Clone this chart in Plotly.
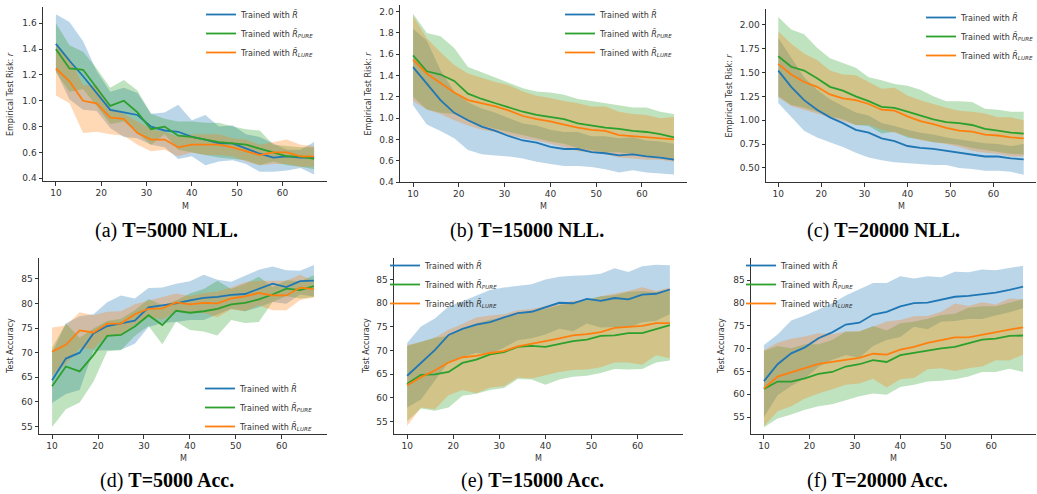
import plotly.graph_objects as go

# ---------------- data ----------------
M = [10, 13, 16, 19, 22, 25, 28, 31, 34, 37, 40, 43, 46, 49, 52, 55, 58, 61, 64, 67]

# (a) T=5000 NLL
a_R_mean = [1.44, 1.31, 1.19, 1.06, 0.93, 0.91, 0.89, 0.80, 0.77, 0.76, 0.72, 0.70, 0.67, 0.67, 0.63, 0.59, 0.56, 0.57, 0.56, 0.56]
a_R_hi = [1.67, 1.61, 1.46, 1.23, 1.07, 1.10, 1.06, 0.90, 0.91, 0.97, 0.85, 0.89, 0.80, 0.81, 0.74, 0.72, 0.67, 0.62, 0.62, 0.68]
a_R_lo = [1.23, 1.01, 0.93, 0.92, 0.79, 0.72, 0.71, 0.66, 0.64, 0.55, 0.57, 0.50, 0.53, 0.54, 0.51, 0.45, 0.45, 0.46, 0.48, 0.43]
a_PURE_mean = [1.40, 1.25, 1.24, 1.10, 0.96, 1.00, 0.91, 0.78, 0.80, 0.73, 0.72, 0.70, 0.68, 0.67, 0.66, 0.63, 0.60, 0.57, 0.57, 0.55]
a_PURE_hi = [1.60, 1.43, 1.38, 1.25, 1.10, 1.16, 1.08, 0.90, 0.86, 0.84, 0.84, 0.83, 0.83, 0.80, 0.78, 0.77, 0.66, 0.65, 0.64, 0.64]
a_PURE_lo = [1.22, 1.07, 1.09, 0.96, 0.82, 0.84, 0.75, 0.66, 0.74, 0.62, 0.60, 0.58, 0.56, 0.55, 0.54, 0.50, 0.53, 0.50, 0.49, 0.47]
a_LURE_mean = [1.25, 1.15, 1.00, 0.98, 0.87, 0.86, 0.75, 0.70, 0.70, 0.64, 0.66, 0.66, 0.66, 0.64, 0.61, 0.58, 0.60, 0.60, 0.57, 0.57]
a_LURE_hi = [1.44, 1.33, 1.12, 1.12, 0.94, 0.90, 0.84, 0.78, 0.76, 0.72, 0.74, 0.74, 0.74, 0.71, 0.70, 0.66, 0.68, 0.70, 0.66, 0.65]
a_LURE_lo = [1.04, 0.98, 0.75, 0.76, 0.74, 0.73, 0.66, 0.61, 0.62, 0.57, 0.60, 0.58, 0.58, 0.57, 0.53, 0.50, 0.51, 0.51, 0.49, 0.49]

# (b) T=15000 NLL
b_R_mean = [1.48, 1.33, 1.17, 1.05, 0.98, 0.92, 0.88, 0.83, 0.79, 0.77, 0.73, 0.71, 0.71, 0.68, 0.67, 0.65, 0.66, 0.64, 0.63, 0.61]
b_R_hi = [1.84, 1.73, 1.45, 1.25, 1.15, 1.09, 1.05, 1.00, 0.95, 0.93, 0.89, 0.87, 0.87, 0.83, 0.83, 0.81, 0.82, 0.79, 0.78, 0.76]
b_R_lo = [1.12, 0.94, 0.88, 0.81, 0.70, 0.66, 0.65, 0.64, 0.62, 0.59, 0.57, 0.55, 0.55, 0.54, 0.52, 0.49, 0.51, 0.49, 0.48, 0.47]
b_PURE_mean = [1.59, 1.44, 1.41, 1.35, 1.23, 1.18, 1.14, 1.10, 1.06, 1.03, 1.01, 0.99, 0.95, 0.93, 0.91, 0.90, 0.88, 0.87, 0.85, 0.82]
b_PURE_hi = [1.98, 1.80, 1.77, 1.66, 1.48, 1.43, 1.38, 1.33, 1.28, 1.25, 1.24, 1.22, 1.18, 1.16, 1.14, 1.12, 1.10, 1.10, 1.06, 1.04]
b_PURE_lo = [1.20, 1.08, 1.05, 1.04, 0.98, 0.93, 0.90, 0.87, 0.84, 0.81, 0.78, 0.76, 0.72, 0.70, 0.68, 0.68, 0.66, 0.64, 0.64, 0.60]
b_LURE_mean = [1.55, 1.42, 1.33, 1.24, 1.17, 1.14, 1.11, 1.07, 1.02, 0.99, 0.97, 0.94, 0.91, 0.89, 0.88, 0.84, 0.83, 0.82, 0.81, 0.80]
b_LURE_hi = [1.96, 1.75, 1.62, 1.50, 1.42, 1.38, 1.34, 1.31, 1.25, 1.21, 1.19, 1.16, 1.14, 1.11, 1.11, 1.06, 1.04, 1.03, 1.00, 1.01]
b_LURE_lo = [1.16, 1.08, 1.04, 0.98, 0.93, 0.89, 0.87, 0.84, 0.81, 0.79, 0.76, 0.73, 0.69, 0.68, 0.66, 0.63, 0.62, 0.61, 0.61, 0.59]

# (c) T=20000 NLL
c_R_mean = [1.52, 1.35, 1.21, 1.11, 1.03, 0.97, 0.90, 0.87, 0.81, 0.78, 0.73, 0.71, 0.70, 0.68, 0.66, 0.64, 0.62, 0.62, 0.60, 0.59]
c_R_hi = [1.86, 1.65, 1.45, 1.32, 1.22, 1.15, 1.08, 1.05, 0.97, 0.94, 0.90, 0.87, 0.85, 0.82, 0.80, 0.78, 0.76, 0.75, 0.73, 0.75]
c_R_lo = [1.18, 1.03, 0.89, 0.82, 0.77, 0.72, 0.66, 0.61, 0.58, 0.56, 0.55, 0.54, 0.53, 0.53, 0.50, 0.49, 0.47, 0.47, 0.46, 0.43]
c_PURE_mean = [1.67, 1.56, 1.52, 1.44, 1.35, 1.31, 1.25, 1.20, 1.14, 1.13, 1.09, 1.05, 1.01, 0.98, 0.97, 0.95, 0.91, 0.89, 0.87, 0.86]
c_PURE_hi = [2.08, 1.95, 1.90, 1.76, 1.65, 1.60, 1.55, 1.45, 1.42, 1.38, 1.36, 1.32, 1.25, 1.20, 1.20, 1.19, 1.12, 1.11, 1.09, 1.09]
c_PURE_lo = [1.25, 1.16, 1.13, 1.09, 1.04, 1.01, 0.95, 0.94, 0.86, 0.88, 0.82, 0.80, 0.77, 0.76, 0.74, 0.71, 0.69, 0.67, 0.65, 0.64]
c_LURE_mean = [1.59, 1.48, 1.40, 1.35, 1.27, 1.23, 1.21, 1.17, 1.11, 1.10, 1.04, 0.99, 0.96, 0.92, 0.89, 0.88, 0.85, 0.84, 0.82, 0.81]
c_LURE_hi = [1.93, 1.80, 1.70, 1.63, 1.52, 1.48, 1.47, 1.40, 1.33, 1.34, 1.26, 1.21, 1.17, 1.13, 1.10, 1.09, 1.07, 1.03, 1.03, 1.00]
c_LURE_lo = [1.24, 1.15, 1.11, 1.07, 1.03, 0.99, 0.95, 0.95, 0.90, 0.87, 0.83, 0.79, 0.77, 0.75, 0.72, 0.68, 0.66, 0.65, 0.62, 0.62]

# (d) T=5000 Acc
d_R_mean = [64.4, 68.8, 70.0, 73.9, 75.4, 76.0, 76.5, 79.2, 79.6, 80.0, 80.6, 81.1, 81.3, 81.7, 81.9, 82.9, 84.0, 83.3, 84.5, 84.6]
d_R_hi = [70.0, 75.9, 77.4, 77.8, 80.2, 81.6, 81.0, 83.1, 83.2, 84.0, 84.5, 85.8, 84.8, 84.4, 85.6, 86.8, 87.5, 86.7, 86.6, 87.8]
d_R_lo = [59.8, 61.6, 62.4, 70.4, 70.5, 70.6, 71.8, 75.2, 76.0, 76.2, 76.6, 76.6, 77.7, 78.9, 78.4, 79.2, 80.3, 79.9, 81.8, 81.4]
d_PURE_mean = [63.2, 67.2, 66.2, 69.5, 73.4, 73.6, 75.3, 77.6, 75.6, 78.5, 78.1, 78.4, 78.9, 79.8, 80.1, 80.8, 81.8, 83.0, 82.7, 83.5]
d_PURE_hi = [71.0, 75.9, 73.0, 74.9, 76.4, 76.9, 78.6, 80.9, 79.6, 80.6, 82.0, 82.9, 84.6, 82.9, 84.0, 85.4, 83.3, 84.7, 84.5, 85.7]
d_PURE_lo = [54.9, 58.5, 59.9, 64.1, 70.3, 70.5, 73.4, 75.4, 71.7, 76.3, 74.6, 74.3, 73.5, 76.6, 76.0, 76.2, 80.3, 81.5, 81.0, 81.3]
d_LURE_mean = [70.2, 71.6, 74.5, 74.1, 75.9, 75.9, 77.8, 78.9, 79.0, 80.2, 79.8, 80.1, 80.0, 81.0, 81.4, 82.1, 81.6, 81.6, 83.2, 82.9]
d_LURE_hi = [75.1, 75.5, 78.2, 77.6, 78.3, 78.4, 79.8, 80.5, 81.3, 82.0, 81.5, 82.1, 82.4, 83.2, 84.3, 84.6, 84.6, 84.6, 85.8, 84.5]
d_LURE_lo = [65.3, 67.7, 70.9, 70.7, 73.6, 73.5, 75.7, 77.3, 76.7, 78.3, 78.0, 78.1, 77.2, 78.8, 78.4, 79.6, 78.6, 78.6, 80.7, 81.2]

# (e) T=15000 Acc
e_R_mean = [64.7, 67.3, 70.1, 73.3, 74.6, 75.5, 76.0, 77.0, 77.9, 78.2, 79.2, 80.1, 80.0, 80.9, 80.5, 81.1, 80.8, 81.8, 82.0, 82.9]
e_R_hi = [71.6, 75.1, 76.8, 79.3, 80.4, 81.6, 82.8, 83.3, 83.7, 84.0, 85.0, 85.6, 85.8, 85.9, 86.2, 87.4, 86.6, 87.8, 88.1, 88.0]
e_R_lo = [58.0, 59.7, 63.7, 67.6, 68.7, 69.5, 69.3, 70.6, 72.2, 72.6, 73.4, 74.6, 74.1, 75.7, 74.9, 75.0, 74.9, 76.0, 76.3, 77.7]
e_PURE_mean = [63.0, 64.9, 65.0, 65.5, 67.4, 68.1, 69.2, 69.7, 70.8, 71.0, 70.8, 71.4, 72.0, 72.3, 73.1, 73.2, 73.7, 73.7, 74.5, 75.4]
e_PURE_hi = [71.0, 71.9, 72.7, 73.1, 74.4, 75.8, 76.5, 76.9, 77.6, 78.4, 78.8, 79.6, 80.2, 80.8, 81.5, 81.7, 82.4, 82.6, 82.3, 83.0]
e_PURE_lo = [55.1, 57.8, 57.3, 58.0, 60.5, 60.9, 61.7, 62.1, 64.0, 63.9, 62.8, 63.9, 64.5, 64.7, 65.3, 66.1, 66.0, 66.1, 67.5, 67.9]
e_LURE_mean = [62.7, 64.4, 65.8, 67.5, 68.6, 68.9, 69.5, 69.9, 70.9, 71.4, 72.0, 72.6, 73.2, 73.5, 73.9, 74.8, 75.0, 75.2, 75.8, 75.8]
e_LURE_hi = [71.2, 71.8, 72.7, 74.4, 75.6, 77.0, 77.4, 77.7, 78.5, 78.8, 79.4, 79.8, 80.5, 80.5, 81.5, 82.1, 82.6, 83.4, 82.6, 83.3]
e_LURE_lo = [54.1, 58.0, 57.6, 60.6, 61.7, 61.0, 62.2, 62.5, 64.3, 64.1, 64.8, 65.5, 65.9, 66.0, 66.5, 67.5, 67.5, 67.0, 69.0, 68.4]

# (f) T=20000 Acc
f_R_mean = [62.9, 66.6, 69.0, 70.3, 72.3, 73.6, 75.3, 75.7, 77.5, 78.1, 79.3, 80.0, 80.1, 80.7, 81.4, 81.6, 82.0, 82.3, 82.9, 83.6]
f_R_hi = [70.8, 73.1, 76.2, 77.3, 78.6, 80.0, 81.7, 83.1, 84.4, 84.4, 85.9, 85.4, 85.9, 85.7, 86.9, 86.8, 87.4, 87.2, 87.7, 88.2]
f_R_lo = [55.0, 59.8, 61.8, 63.5, 66.0, 67.6, 68.6, 68.0, 70.6, 71.9, 72.6, 74.8, 74.3, 75.9, 76.1, 76.5, 76.5, 77.3, 78.0, 78.9]
f_PURE_mean = [61.2, 62.8, 62.8, 63.5, 64.5, 64.9, 66.1, 66.6, 67.5, 67.1, 68.6, 69.1, 69.7, 70.1, 70.4, 71.2, 72.0, 72.2, 72.8, 72.9]
f_PURE_hi = [69.5, 70.6, 70.1, 71.0, 71.0, 71.9, 73.7, 73.7, 75.0, 74.0, 75.6, 75.9, 76.6, 77.4, 77.7, 79.0, 79.3, 79.3, 80.1, 80.9]
f_PURE_lo = [52.8, 54.7, 55.6, 56.6, 57.4, 57.8, 58.7, 59.6, 60.2, 59.9, 61.6, 62.1, 62.8, 63.0, 63.3, 63.9, 64.9, 64.9, 65.6, 64.9]
f_LURE_mean = [61.3, 63.9, 64.8, 65.8, 66.7, 67.1, 67.6, 68.0, 68.9, 68.7, 69.8, 70.4, 71.3, 71.9, 72.5, 72.5, 73.1, 73.6, 74.2, 74.7]
f_LURE_hi = [69.7, 71.3, 72.2, 72.7, 73.4, 73.2, 73.8, 73.9, 74.8, 76.0, 76.3, 77.1, 77.2, 78.1, 79.9, 79.4, 80.2, 79.7, 81.0, 80.8]
f_LURE_lo = [53.0, 56.3, 57.4, 59.1, 60.2, 61.1, 62.1, 62.4, 63.4, 61.5, 63.3, 63.6, 65.5, 65.7, 65.1, 65.7, 66.1, 67.5, 67.4, 68.7]

legend_labels = ["Trained with <i>R\u0303</i>",
                 "Trained with <i>R\u0303</i><sub><i>PURE</i></sub>",
                 "Trained with <i>R\u0303</i><sub><i>LURE</i></sub>"]
captions = ["(a) <b>T=5000 NLL.</b>", "(b) <b>T=15000 NLL.</b>", "(c) <b>T=20000 NLL.</b>",
            "(d) <b>T=5000 Acc.</b>", "(e) <b>T=15000 Acc.</b>", "(f) <b>T=20000 Acc.</b>"]
y_titles = ["Empirical Test Risk: <i>r</i>"] * 3 + ["Test Accuracy"] * 3
x_title = "M"
x_ticks = [10, 20, 30, 40, 50, 60]

panel_series = [
    [(a_R_mean, a_R_lo, a_R_hi), (a_PURE_mean, a_PURE_lo, a_PURE_hi), (a_LURE_mean, a_LURE_lo, a_LURE_hi)],
    [(b_R_mean, b_R_lo, b_R_hi), (b_PURE_mean, b_PURE_lo, b_PURE_hi), (b_LURE_mean, b_LURE_lo, b_LURE_hi)],
    [(c_R_mean, c_R_lo, c_R_hi), (c_PURE_mean, c_PURE_lo, c_PURE_hi), (c_LURE_mean, c_LURE_lo, c_LURE_hi)],
    [(d_R_mean, d_R_lo, d_R_hi), (d_PURE_mean, d_PURE_lo, d_PURE_hi), (d_LURE_mean, d_LURE_lo, d_LURE_hi)],
    [(e_R_mean, e_R_lo, e_R_hi), (e_PURE_mean, e_PURE_lo, e_PURE_hi), (e_LURE_mean, e_LURE_lo, e_LURE_hi)],
    [(f_R_mean, f_R_lo, f_R_hi), (f_PURE_mean, f_PURE_lo, f_PURE_hi), (f_LURE_mean, f_LURE_lo, f_LURE_hi)],
]

# ---------------- style / layout ----------------
W, H = 1037, 494
line_colors = ["#1f77b4", "#2ca02c", "#ff7f0e"]
fill_colors = ["rgba(31,119,180,0.3)", "rgba(44,160,44,0.3)", "rgba(255,127,14,0.3)"]

# pixel boxes: (left, right, top, bottom)
boxes = [(43, 327, 7, 181), (400, 687, 5, 182), (766, 1036, 9, 182),
         (39, 327, 258, 434), (394, 683, 258, 434), (751, 1036, 258, 434)]
y_ranges = [(0.379, 1.726), (0.40, 2.063), (0.353, 2.165),
            (53.5, 89.2), (52.4, 89.55), (51.3, 89.9)]
y_ticks = [[0.4, 0.6, 0.8, 1.0, 1.2, 1.4, 1.6],
           [0.4, 0.6, 0.8, 1.0, 1.2, 1.4, 1.6, 1.8, 2.0],
           [0.5, 0.75, 1.0, 1.25, 1.5, 1.75, 2.0],
           [55, 60, 65, 70, 75, 80, 85]] + [[55, 60, 65, 70, 75, 80, 85]] * 2
y_fmt = [".1f", ".1f", ".2f", "d", "d", "d"]
legend_pos = [(201, 0), (560, 0), (921, 3), (200, 374), (385, 251), (741, 251)]
caption_pos = [(166, 230), (527, 230), (883, 230), (167, 480), (532, 480), (877, 480)]
ytitle_px = [10, 368, 729, 10, 366, 721]          # centre x of y-axis titles
xtitle_py = [206, 206, 206, 458, 458, 458]        # centre y of x-axis titles

fig = go.Figure()
text_color = "#333333"

for i, series in enumerate(panel_series):
    k = i + 1
    xa = "x" if k == 1 else f"x{k}"
    ya = "y" if k == 1 else f"y{k}"
    lg = "legend" if k == 1 else f"legend{k}"
    for j, (mean, lo, hi) in enumerate(series):
        fig.add_trace(go.Scatter(
            x=M + M[::-1], y=hi + lo[::-1], fill="toself", fillcolor=fill_colors[j],
            line=dict(width=0), mode="lines", hoverinfo="skip", showlegend=False,
            xaxis=xa, yaxis=ya))
    for j, (mean, lo, hi) in enumerate(series):
        fig.add_trace(go.Scatter(
            x=M, y=mean, mode="lines", line=dict(color=line_colors[j], width=1.8),
            name=legend_labels[j], legend=lg, xaxis=xa, yaxis=ya))

layout = dict(width=W, height=H, margin=dict(l=0, r=0, t=0, b=0, autoexpand=False),
              paper_bgcolor="white", plot_bgcolor="white", showlegend=True,
              font=dict(family="DejaVu Sans", color=text_color))
annotations = []
for i in range(6):
    k = i + 1
    l, r, t, b = boxes[i]
    xkey = "xaxis" if k == 1 else f"xaxis{k}"
    ykey = "yaxis" if k == 1 else f"yaxis{k}"
    xa = "x" if k == 1 else f"x{k}"
    ya = "y" if k == 1 else f"y{k}"
    axis_common = dict(showline=True, linecolor=text_color, linewidth=1, ticks="outside",
                       ticklen=3.5, tickwidth=1, tickcolor=text_color, showgrid=False,
                       zeroline=False, tickfont=dict(size=9, color=text_color))
    layout[xkey] = dict(domain=[l / W, r / W], anchor=ya, range=[7.15, 69.85],
                        tickvals=x_ticks, **axis_common)
    layout[ykey] = dict(domain=[1 - b / H, 1 - t / H], anchor=xa, range=list(y_ranges[i]),
                        tickvals=y_ticks[i], tickformat=y_fmt[i], **axis_common)
    lgkey = "legend" if k == 1 else f"legend{k}"
    lx, ly = legend_pos[i]
    layout[lgkey] = dict(x=lx / W, y=1 - ly / H, xanchor="left", yanchor="top",
                         bgcolor="rgba(0,0,0,0)", font=dict(size=8, color=text_color),
                         tracegroupgap=0)
    # axis titles
    annotations.append(dict(text=x_title, x=(l + r) / 2 / W, y=1 - xtitle_py[i] / H,
                            xref="paper", yref="paper", showarrow=False,
                            xanchor="center", yanchor="middle",
                            font=dict(size=8, color=text_color)))
    annotations.append(dict(text=y_titles[i], x=ytitle_px[i] / W, y=1 - (t + b) / 2 / H,
                            xref="paper", yref="paper", showarrow=False, textangle=-90,
                            xanchor="center", yanchor="middle",
                            font=dict(size=8, color=text_color)))
    cx, cy = caption_pos[i]
    annotations.append(dict(text=captions[i], x=cx / W, y=1 - cy / H, xref="paper", yref="paper",
                            showarrow=False, xanchor="center", yanchor="middle",
                            font=dict(family="Liberation Serif", size=20, color="black")))
layout["annotations"] = annotations
fig.update_layout(**layout)

fig.write_html("out.html", config={"displayModeBar": False},
               post_script="document.body.style.margin='0';document.body.style.overflow='hidden';")
